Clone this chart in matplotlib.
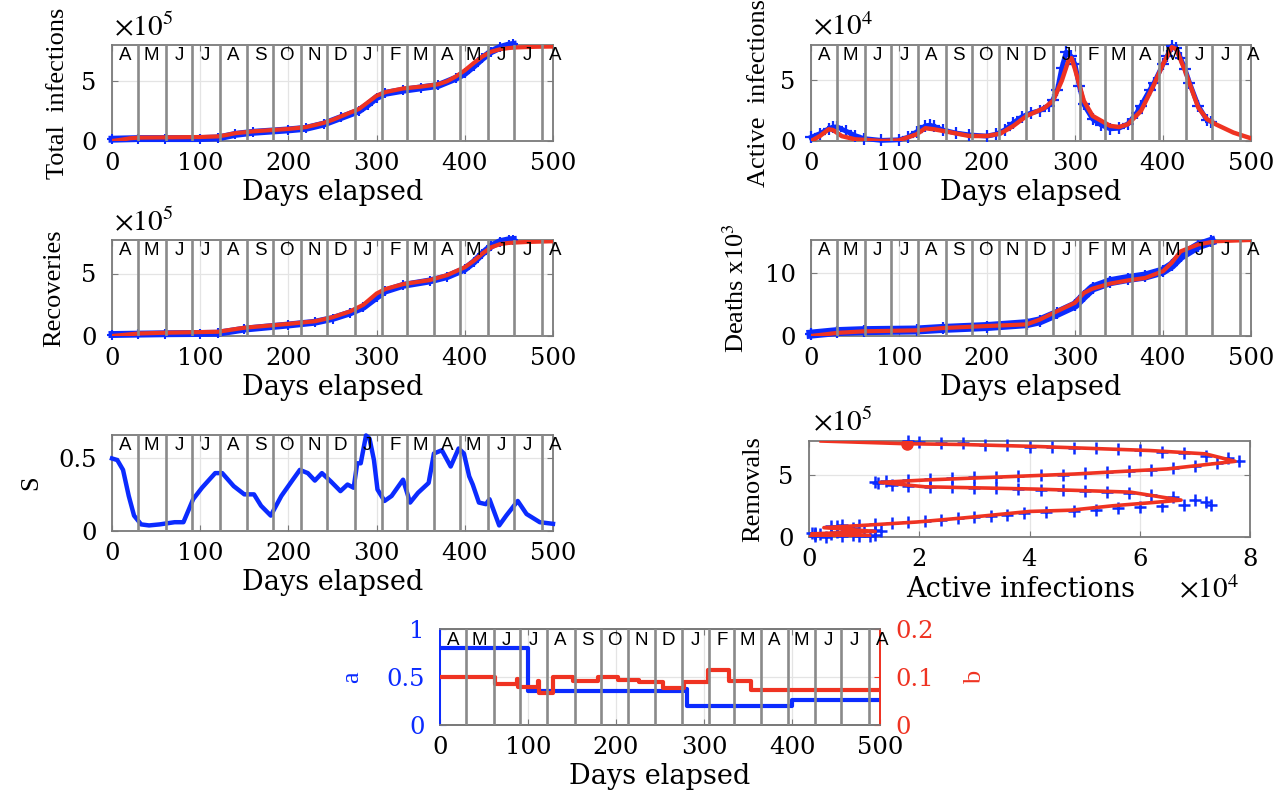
import matplotlib
matplotlib.use("Agg")
import matplotlib.pyplot as plt
import matplotlib.transforms as mtransforms

plt.rcParams['font.family'] = ['Liberation Serif', 'DejaVu Serif']
plt.rcParams['mathtext.fontset'] = 'stix'

# ---------------- data ----------------
month_letters = ['A', 'M', 'J', 'J', 'A', 'S', 'O', 'N', 'D', 'J', 'F', 'M', 'A', 'M', 'J', 'J', 'A']
month_starts = [0, 30, 61, 91, 122, 153, 183, 214, 244, 275, 306, 334, 365, 395, 426, 456, 487]

# Total infections (x1e5)
ti_obs_days = [0, 30, 60, 100, 120, 140, 160, 200, 220, 240, 260, 280, 290, 300, 310, 330, 350, 370, 390, 400, 410, 420, 430, 440, 450, 455]
ti_obs = [0.15, 0.2, 0.2, 0.2, 0.25, 0.55, 0.72, 0.92, 1.05, 1.4, 1.95, 2.5, 3.0, 3.6, 3.95, 4.2, 4.4, 4.6, 5.2, 5.6, 6.2, 6.85, 7.4, 7.75, 7.95, 8.0]
ti_mod_days = [0, 10, 20, 30, 60, 100, 120, 130, 140, 150, 160, 180, 200, 220, 240, 250, 260, 270, 280, 290, 300, 310, 320, 330, 350, 370, 380, 390, 400, 410, 420, 430, 440, 450, 460, 480, 500]
ti_mod = [0.0, 0.1, 0.22, 0.28, 0.30, 0.33, 0.38, 0.5, 0.65, 0.72, 0.8, 0.9, 1.0, 1.15, 1.5, 1.75, 2.05, 2.35, 2.65, 3.2, 3.75, 4.05, 4.2, 4.35, 4.5, 4.7, 4.95, 5.35, 5.85, 6.45, 7.0, 7.4, 7.6, 7.7, 7.75, 7.8, 7.82]

# Active infections (x1e4)
ai_obs_days = [0, 10, 20, 25, 30, 40, 50, 60, 80, 100, 110, 120, 130, 135, 140, 150, 165, 180, 200, 210, 220, 230, 240, 250, 260, 270, 275, 280, 285, 290, 295, 300, 305, 310, 320, 330, 340, 350, 360, 370, 375, 385, 390, 400, 405, 410, 415, 420, 425, 430, 440, 450, 455]
ai_obs = [0.3, 0.6, 1.0, 1.15, 1.15, 0.8, 0.45, 0.2, 0.05, 0.1, 0.3, 0.75, 1.25, 1.3, 1.2, 0.9, 0.65, 0.5, 0.4, 0.55, 0.9, 1.5, 2.0, 2.3, 2.5, 2.9, 3.4, 4.2, 6.0, 7.3, 7.0, 6.3, 4.5, 3.0, 1.8, 1.3, 1.0, 1.05, 1.4, 2.3, 2.9, 4.2, 4.8, 6.3, 7.0, 7.8, 7.6, 6.8, 5.9, 4.8, 2.9, 1.7, 1.6]
ai_mod_days = [0, 10, 20, 25, 35, 50, 80, 100, 120, 130, 140, 160, 180, 200, 215, 230, 245, 265, 275, 285, 293, 296, 300, 310, 320, 340, 350, 360, 375, 390, 400, 410, 415, 425, 440, 450, 460, 480, 500]
ai_mod = [0, 0.4, 0.96, 0.9, 0.4, 0.14, 0, 0.05, 0.55, 1.05, 0.96, 0.69, 0.41, 0.41, 0.6, 1.24, 2.06, 2.7, 3.3, 4.95, 6.7, 6.8, 5.9, 3.3, 2.06, 1.24, 1.15, 1.37, 2.47, 4.67, 6.3, 7.7, 7.55, 5.77, 2.75, 1.79, 1.37, 0.69, 0.22]

# Recoveries (x1e5)
rec_obs_days = [0, 30, 60, 100, 120, 150, 200, 230, 250, 270, 285, 300, 310, 330, 360, 380, 400, 410, 420, 430, 440, 450, 455]
rec_obs = [0.12, 0.15, 0.18, 0.2, 0.22, 0.55, 0.88, 1.1, 1.4, 1.85, 2.3, 3.1, 3.6, 4.05, 4.4, 4.75, 5.35, 5.9, 6.6, 7.2, 7.55, 7.7, 7.72]
rec_mod_days = [0, 30, 60, 120, 150, 200, 230, 250, 270, 285, 300, 310, 330, 360, 380, 400, 410, 420, 430, 440, 450, 470, 500]
rec_mod = [0, 0.2, 0.26, 0.34, 0.66, 0.97, 1.18, 1.5, 1.97, 2.5, 3.4, 3.76, 4.15, 4.47, 4.87, 5.5, 6.0, 6.6, 7.1, 7.35, 7.45, 7.52, 7.58]

# Deaths (x1e3)
de_obs_days = [0, 30, 60, 120, 150, 200, 245, 260, 280, 300, 310, 320, 340, 360, 380, 400, 410, 420, 440, 455]
de_obs = [0.3, 0.7, 0.85, 0.95, 1.2, 1.5, 1.95, 2.4, 3.6, 4.9, 6.3, 7.6, 8.6, 9.1, 9.5, 10.3, 11.2, 12.6, 14.3, 15.0]
de_mod_days = [0, 30, 60, 120, 150, 200, 245, 260, 280, 300, 310, 320, 340, 360, 380, 400, 410, 420, 440, 460, 500]
de_mod = [0, 0.5, 0.74, 0.9, 1.26, 1.58, 1.84, 2.6, 3.95, 5.26, 6.8, 7.5, 8.3, 8.8, 9.2, 10.26, 11.6, 13.4, 14.5, 15.0, 15.2]

# S
s_days = [0, 6, 12.5, 19, 25, 33, 42, 54, 71, 81, 92, 102, 117, 125, 138, 150, 161, 169, 180, 192, 205, 213, 222, 230, 238, 248, 259, 267, 274, 278, 282, 288, 292, 297, 301, 309, 317, 330, 338, 347, 359, 365, 374, 384, 393, 399, 405, 409, 416, 424, 428, 439, 447, 460, 470, 485, 500]
s_vals = [0.495, 0.484, 0.417, 0.239, 0.105, 0.045, 0.038, 0.045, 0.06, 0.06, 0.217, 0.295, 0.395, 0.395, 0.306, 0.25, 0.25, 0.172, 0.105, 0.239, 0.35, 0.417, 0.395, 0.344, 0.395, 0.339, 0.272, 0.317, 0.295, 0.462, 0.462, 0.652, 0.63, 0.484, 0.283, 0.205, 0.239, 0.35, 0.194, 0.261, 0.328, 0.529, 0.551, 0.44, 0.563, 0.529, 0.373, 0.317, 0.194, 0.183, 0.217, 0.038, 0.105, 0.205, 0.116, 0.06, 0.049]

# Removals vs active infections (active x1e4, removals x1e5)
rm_obs_act = [0.1, 0.3, 0.6, 0.9, 1.1, 1.2, 0.8, 0.4, 0.2, 0.1, 0.05, 0.1, 0.5, 1.0, 1.3, 1.2, 0.8, 0.5, 0.4,
              0.6, 0.9, 1.2, 1.5, 1.8, 2.1, 2.4, 2.7, 3.0, 3.3, 3.6, 3.9, 4.3, 4.8, 5.2, 5.6, 6.0, 6.4, 6.8, 7.3,
              7.2, 7.0, 6.6, 6.2, 5.8, 5.4, 5.0, 4.6, 4.2, 3.8, 3.4, 3.0, 2.6, 2.2, 1.8, 1.5, 1.25, 1.2,
              1.4, 1.8, 2.2, 2.6, 3.0, 3.4, 3.8, 4.2, 4.6, 5.0, 5.4, 5.8, 6.2, 6.6, 7.0, 7.4, 7.8,
              7.6, 7.2, 6.8, 6.4, 6.0, 5.6, 5.2, 4.8, 4.4, 4.0, 3.6, 3.2, 2.8, 2.4, 2.0, 1.8]
rm_obs_rem = [0.05, 0.02, 0.05, 0.08, 0.1, 0.15, 0.2, 0.22, 0.25, 0.28, 0.3, 0.35, 0.4, 0.45, 0.5, 0.6, 0.7, 0.85, 0.9,
              0.95, 1.0, 1.05, 1.1, 1.2, 1.3, 1.4, 1.5, 1.6, 1.7, 1.8, 1.9, 2.0, 2.1, 2.2, 2.3, 2.4, 2.5, 2.55, 2.6,
              2.8, 3.0, 3.2, 3.35, 3.5, 3.6, 3.7, 3.75, 3.8, 3.85, 3.9, 3.95, 4.0, 4.05, 4.1, 4.2, 4.3, 4.4,
              4.5, 4.6, 4.65, 4.75, 4.8, 4.85, 4.9, 4.95, 5.0, 5.1, 5.2, 5.3, 5.4, 5.5, 5.7, 5.9, 6.1,
              6.3, 6.5, 6.7, 6.85, 6.95, 7.05, 7.1, 7.15, 7.2, 7.25, 7.35, 7.4, 7.5, 7.55, 7.65, 7.72]
rm_mod_act = [0.0, 1.0, 1.1, 0.3, 0.05, 1.2, 0.27, 1.05, 1.95, 2.85, 4.0, 4.75, 5.5, 6.2, 6.75, 6.4, 5.83, 4.14, 2.1, 1.29, 2.1, 4.81, 6.5, 7.73, 7.19, 6.17, 4.14, 2.78, 1.77, 0.22]
rm_mod_rem = [0.0, 0.05, 0.1, 0.15, 0.25, 0.45, 0.75, 0.95, 1.2, 1.55, 2.05, 2.15, 2.5, 2.75, 2.96, 3.2, 3.6, 3.84, 4.03, 4.38, 4.57, 5.05, 5.46, 6.07, 6.67, 6.94, 7.26, 7.42, 7.48, 7.7]
rm_dot_act = [1.77]
rm_dot_rem = [7.45]

# Parameters a (left) and b (right)
a_days = [0, 100, 277, 281, 400, 500]
a_vals = [0.8, 0.35, 0.38, 0.2, 0.26, 0.26]
b_days = [0, 62, 87, 89, 111, 113, 128, 151, 179, 202, 226, 253, 277, 304, 328, 353, 500]
b_vals = [0.1, 0.086, 0.096, 0.08, 0.091, 0.067, 0.1, 0.091, 0.1, 0.094, 0.09, 0.077, 0.089, 0.114, 0.092, 0.072, 0.072]

# ---------------- style ----------------
BLUE = '#0b2bff'
RED = '#ef3322'
GRAY = '#8a8a8a'
SPINE = '#7a7a7a'
W, H = 1288, 791
YLFS = 19            # rotated y labels
XLFS = 19.5          # x labels
TFS = 17.5           # tick labels
WIDE = 'DejaVu Serif'


def pos(left, right, top, bottom):
    return [left / W, 1 - bottom / H, (right - left) / W, (bottom - top) / H]


def tick_fonts(ax):
    for lab in ax.get_xticklabels() + ax.get_yticklabels():
        lab.set_family(WIDE)
        lab.set_fontsize(TFS)


def base_style(ax, ylabel_txt=None, ylab_x=None):
    ax.grid(True, color='#e4e4e4', lw=0.9, zorder=0)
    ax.set_axisbelow(True)
    for s in ax.spines.values():
        s.set_color(SPINE)
        s.set_linewidth(1.3)
    ax.tick_params(direction='in', length=4, width=0.8, color=SPINE, top=True, right=True,
                   labelsize=TFS, pad=8)
    ax.tick_params(axis='y', pad=11)
    if ylabel_txt is not None:
        ax.set_ylabel(ylabel_txt, fontsize=YLFS)
        ax.yaxis.set_label_coords(ylab_x, 0.5)


def month_decor(ax, yfrac=0.895):
    trans = mtransforms.blended_transform_factory(ax.transData, ax.transAxes)
    for d in month_starts[1:]:
        ax.axvline(d, color=GRAY, lw=1.9, zorder=6)
    for L, d in zip(month_letters, month_starts):
        ax.text(d + 15, yfrac, L, transform=trans, ha='center', va='center', fontsize=13.5,
                family='Liberation Sans', zorder=7, clip_on=False)


def time_axes(ax, ylabel_txt, ylab_x, ylim, yticks, ytl=None):
    ax.set_xlim(0, 500)
    ax.set_xticks([0, 100, 200, 300, 400, 500])
    ax.set_ylim(*ylim)
    ax.set_yticks(yticks)
    if ytl is not None:
        ax.set_yticklabels(ytl)
    base_style(ax, ylabel_txt, ylab_x)
    ax.set_xlabel('Days elapsed', fontsize=XLFS, family=WIDE)
    ax.xaxis.set_label_coords(0.5, -0.40)
    month_decor(ax)
    tick_fonts(ax)


def offset_text(ax, txt, x=0.005, y=1.04):
    ax.text(x, y, txt, transform=ax.transAxes, ha='left', va='bottom', fontsize=21)


fig = plt.figure(figsize=(W / 100, H / 100), dpi=100)

# Total infections
ax1 = fig.add_axes(pos(112, 553, 45, 141))
ax1.plot(ti_obs_days, ti_obs, color=BLUE, lw=5, marker='+', ms=7, mew=1.5, zorder=3, clip_on=False)
ax1.plot(ti_mod_days, ti_mod, color=RED, lw=3, zorder=4)
time_axes(ax1, 'Total  infections', -0.0975, (0, 7.95), [0, 5])
offset_text(ax1, r'$\times10^{5}$')

# Active infections
ax2 = fig.add_axes(pos(811, 1251, 45, 141))
ax2.plot(ai_obs_days, ai_obs, color=BLUE, lw=3.5, marker='+', ms=8, mew=1.6, zorder=3, clip_on=False)
ax2.plot(ai_mod_days, ai_mod, color=RED, lw=3.2, zorder=4)
time_axes(ax2, 'Active  infections', -0.093, (0, 7.88), [0, 5])
offset_text(ax2, r'$\times10^{4}$')

# Recoveries
ax3 = fig.add_axes(pos(112, 553, 240, 336))
ax3.plot(rec_obs_days, rec_obs, color=BLUE, lw=5, marker='+', ms=7, mew=1.5, zorder=3, clip_on=False)
ax3.plot(rec_mod_days, rec_mod, color=RED, lw=3, zorder=4)
time_axes(ax3, 'Recoveries', -0.107, (0, 7.68), [0, 5])
offset_text(ax3, r'$\times10^{5}$')

# Deaths
ax4 = fig.add_axes(pos(811, 1251, 240, 336))
ax4.plot(de_obs_days, de_obs, color=BLUE, lw=6.5, marker='+', ms=8, mew=1.6, zorder=3, clip_on=False)
ax4.plot(de_mod_days, de_mod, color=RED, lw=3, zorder=4)
time_axes(ax4, r'Deaths x10$^3$', -0.141, (0, 15.2), [0, 10])

# S
ax5 = fig.add_axes(pos(112, 553, 435, 531))
ax5.plot(s_days, s_vals, color=BLUE, lw=3.2, zorder=3, clip_on=False)
time_axes(ax5, 'S', -0.159, (0, 0.655), [0, 0.5], ['0', '0.5'])

# Removals vs active infections
ax6 = fig.add_axes(pos(809, 1250, 441, 537))
ax6.plot(rm_obs_act, rm_obs_rem, ls='none', marker='+', ms=9, mew=1.8, color=BLUE, zorder=3, clip_on=False)
ax6.plot(rm_mod_act, rm_mod_rem, color=RED, lw=2.6, zorder=4)
ax6.plot(rm_dot_act, rm_dot_rem, 'o', color=RED, ms=8, zorder=5)
ax6.set_xlim(0, 8)
ax6.set_ylim(0, 7.7)
ax6.set_xticks([0, 2, 4, 6, 8])
ax6.set_yticks([0, 5])
base_style(ax6, 'Removals', -0.102)
tick_fonts(ax6)
ax6.set_xlabel('Active infections', fontsize=XLFS, family=WIDE)
ax6.xaxis.set_label_coords(0.48, -0.41)
offset_text(ax6, r'$\times10^{5}$', x=0.01, y=1.05)
ax6.text(0.84, -0.55, r'$\times10^{4}$', transform=ax6.transAxes, ha='left', va='center', fontsize=21)

# Parameters a and b
ax7 = fig.add_axes(pos(440, 880, 629, 725))
ax7.plot(a_days, a_vals, color=BLUE, lw=3, drawstyle='steps-post', zorder=3)
ax7.set_xlim(0, 500)
ax7.set_xticks([0, 100, 200, 300, 400, 500])
ax7.set_ylim(0, 1)
ax7.set_yticks([0, 0.5, 1])
ax7.set_yticklabels(['0', '0.5', '1'])
base_style(ax7)
ax7.tick_params(axis='y', colors=BLUE, labelcolor=BLUE, right=False)
tick_fonts(ax7)
ax7.set_xlabel('Days elapsed', fontsize=XLFS, family=WIDE)
ax7.xaxis.set_label_coords(0.5, -0.40)
ax7.set_ylabel('a', fontsize=YLFS, color=BLUE)
ax7.yaxis.set_label_coords(-0.175, 0.5)

ax8 = ax7.twinx()
ax8.plot(b_days, b_vals, color=RED, lw=3, drawstyle='steps-post', zorder=3)
ax8.set_xlim(0, 500)
ax8.set_ylim(0, 0.2)
ax8.set_yticks([0, 0.1, 0.2])
ax8.set_yticklabels(['0', '0.1', '0.2'])
ax8.tick_params(axis='y', direction='in', length=4, colors=RED, labelcolor=RED, labelsize=TFS, pad=11)
for lab in ax8.get_yticklabels():
    lab.set_family(WIDE)
ax8.set_ylabel('b', fontsize=YLFS, color=RED)
ax8.yaxis.set_label_coords(1.19, 0.5)
for s in ax8.spines.values():
    s.set_color(SPINE)
    s.set_linewidth(1.3)
ax8.spines['left'].set_color(BLUE)
ax8.spines['right'].set_color(RED)
ax7.spines['left'].set_color(BLUE)
ax7.spines['right'].set_color(RED)
month_decor(ax8, yfrac=0.885)

fig.savefig('out.png', dpi=100)
